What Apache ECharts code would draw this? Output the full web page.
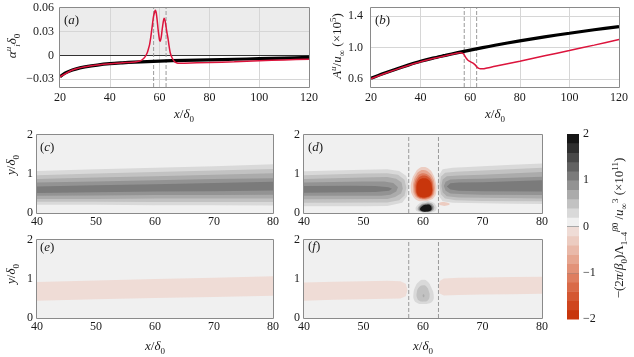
<!DOCTYPE html>
<html><head><meta charset="utf-8">
<script src="https://cdn.jsdelivr.net/npm/echarts@6/dist/echarts.min.js"></script>
<style>html,body{margin:0;padding:0;background:#fff}#c{width:634px;height:357px}</style>
</head><body><div id="c"></div>
<script>
// ---------------- data ----------------
const topXTicks = [20, 40, 60, 80, 100, 120];
const alphaYTicks = [-0.03, 0, 0.03, 0.06];
const ampYTicks = [0.6, 1.0, 1.4];
const fieldXTicks = [40, 50, 60, 70, 80];
const fieldYTicks = [0, 1, 2];
const cbarTicks = [-2, -1, 0, 1, 2];
const dashedX = [57.6, 62.6];

const alphaBlackX = [20, 22, 25, 28, 30, 35, 40, 45, 50, 55, 60, 70, 80, 90, 100, 110, 120];
const alphaBlackY = [-0.027, -0.0225, -0.0185, -0.0158, -0.0145, -0.0122, -0.0105, -0.0094, -0.0085, -0.0078, -0.0072, -0.0063, -0.0056, -0.0049, -0.0042, -0.0034, -0.0025];
const alphaRedX = [20, 25, 30, 35, 40, 45, 50, 52, 53, 54, 55, 55.5, 56, 56.5, 57, 57.5, 58, 58.3, 58.7, 59, 59.5, 60, 60.3, 60.7, 61, 61.5, 61.8, 62.2, 62.6, 63, 63.4, 63.8, 64.3, 65, 66, 67, 68, 70, 80, 90, 100, 110, 120];
const alphaRedY = [-0.027, -0.0185, -0.0145, -0.0122, -0.0105, -0.0094, -0.0084, -0.0072, -0.0055, -0.0025, 0.003, 0.008, 0.014, 0.024, 0.036, 0.048, 0.055, 0.057, 0.053, 0.045, 0.030, 0.019, 0.018, 0.024, 0.032, 0.043, 0.047, 0.044, 0.036, 0.028, 0.021, 0.012, 0.003, -0.003, -0.008, -0.0097, -0.0100, -0.0098, -0.0090, -0.0080, -0.0068, -0.0058, -0.0048];

const ampBlackX = [20, 25, 30, 35, 40, 45, 50, 55, 60, 65, 70, 80, 90, 100, 110, 120];
const ampBlackY = [0.61, 0.67, 0.725, 0.777, 0.825, 0.865, 0.90, 0.935, 0.967, 0.998, 1.028, 1.084, 1.135, 1.18, 1.225, 1.265];
const ampRedX = [20, 25, 30, 35, 40, 45, 50, 55, 56, 57, 57.5, 58, 58.5, 59, 59.5, 60, 61, 62, 62.5, 63, 63.5, 64, 65, 66, 70, 80, 90, 100, 110, 120];
const ampRedY = [0.605, 0.665, 0.72, 0.772, 0.82, 0.86, 0.895, 0.93, 0.932, 0.925, 0.91, 0.885, 0.86, 0.842, 0.83, 0.822, 0.805, 0.78, 0.76, 0.745, 0.735, 0.73, 0.731, 0.735, 0.762, 0.826, 0.895, 0.962, 1.03, 1.10];

// contour levels of the colour bar
const cbarEdges = [-2, -1.8, -1.6, -1.4, -1.2, -1, -0.8, -0.6, -0.4, -0.2, 0, 0.2, 0.4, 0.6, 0.8, 1, 1.2, 1.4, 1.6, 1.8, 2];

// filled contours (level, outline in x/delta0, y/delta0), outer to inner
const contoursC = [
  {level: 0.2, pts: [[40,1.08],[50,1.12],[60,1.16],[70,1.20],[80,1.25],[80,0.19],[70,0.20],[60,0.20],[50,0.21],[40,0.21]]},
  {level: 0.4, pts: [[40,0.97],[50,1.01],[60,1.05],[70,1.09],[80,1.13],[80,0.28],[70,0.28],[60,0.28],[50,0.29],[40,0.29]]},
  {level: 0.6, pts: [[40,0.87],[50,0.91],[60,0.94],[70,0.98],[80,1.02],[80,0.37],[70,0.37],[60,0.37],[50,0.36],[40,0.36]]},
  {level: 0.8, pts: [[40,0.78],[50,0.81],[60,0.84],[70,0.87],[80,0.89],[80,0.47],[70,0.46],[60,0.46],[50,0.45],[40,0.44]]},
  {level: 1.0, pts: [[40,0.68],[50,0.71],[60,0.74],[70,0.77],[80,0.80],[80,0.58],[70,0.56],[60,0.55],[50,0.53],[40,0.51]]}
];
const contoursD = [
  {level: 0.2, pts: [[40,1.07],[45,1.09],[50,1.11],[54,1.12],[56,1.08],[57.2,0.95],[57.6,0.7],[57.3,0.42],[56.5,0.26],[54,0.18],[50,0.17],[45,0.17],[40,0.17]]},
  {level: 0.4, pts: [[40,0.97],[50,1.01],[54,1.02],[55.8,0.98],[56.9,0.85],[57.2,0.65],[56.9,0.45],[56,0.33],[54,0.27],[40,0.26]]},
  {level: 0.6, pts: [[40,0.87],[50,0.91],[54,0.92],[55.5,0.88],[56.4,0.78],[56.6,0.62],[56.3,0.5],[55.3,0.41],[54,0.36],[40,0.35]]},
  {level: 0.8, pts: [[40,0.78],[50,0.81],[53.5,0.81],[55,0.77],[55.8,0.66],[55.5,0.55],[54.5,0.47],[53,0.44],[40,0.44]]},
  {level: 1.0, pts: [[40,0.69],[48,0.7],[52,0.69],[54.2,0.66],[54.8,0.62],[54.3,0.57],[52,0.54],[40,0.52]]},
  {level: 0.2, pts: [[62.4,0.7],[62.6,0.95],[63.3,1.12],[65,1.16],[70,1.2],[75,1.24],[80,1.27],[80,0.23],[75,0.24],[70,0.25],[65,0.26],[63.3,0.3],[62.6,0.45]]},
  {level: 0.4, pts: [[62.8,0.7],[63.0,0.93],[63.7,1.03],[65.5,1.06],[70,1.09],[80,1.16],[80,0.3],[70,0.31],[65.5,0.33],[63.7,0.37],[63.0,0.48]]},
  {level: 0.6, pts: [[63.1,0.7],[63.3,0.86],[64,0.94],[66,0.96],[70,0.98],[80,1.05],[80,0.37],[70,0.39],[66,0.4],[64,0.43],[63.3,0.53]]},
  {level: 0.8, pts: [[63.5,0.69],[63.8,0.8],[64.6,0.86],[67,0.87],[70,0.88],[80,0.93],[80,0.46],[70,0.47],[67,0.48],[64.6,0.5],[63.8,0.57]]},
  {level: 1.0, pts: [[64.0,0.68],[64.6,0.76],[66,0.78],[70,0.79],[80,0.84],[80,0.55],[70,0.56],[66,0.57],[64.6,0.6]]},
  {level: -0.2, smooth: 0.5, pts: [[60.1,1.18],[61.0,1.13],[61.7,0.99],[62.15,0.78],[62.25,0.58],[61.9,0.41],[61.0,0.32],[60.0,0.30],[59.0,0.33],[58.25,0.45],[57.95,0.62],[58.15,0.85],[58.7,1.03],[59.3,1.14]]},
  {level: -0.6, smooth: 0.5, pts: [[60.1,1.1],[60.9,1.05],[61.6,0.92],[61.95,0.73],[61.95,0.55],[61.6,0.42],[60.8,0.35],[60.0,0.34],[59.2,0.37],[58.55,0.47],[58.35,0.63],[58.45,0.83],[58.9,0.99],[59.4,1.07]]},
  {level: -1.0, smooth: 0.5, pts: [[60.1,1.02],[60.8,0.98],[61.45,0.87],[61.75,0.7],[61.75,0.53],[61.4,0.43],[60.7,0.37],[60.0,0.36],[59.3,0.39],[58.75,0.48],[58.55,0.63],[58.65,0.81],[59.1,0.94],[59.5,1.0]]},
  {level: -1.4, smooth: 0.5, pts: [[60.1,0.96],[60.8,0.93],[61.4,0.82],[61.6,0.67],[61.6,0.53],[61.3,0.44],[60.6,0.39],[60.0,0.38],[59.3,0.41],[58.9,0.49],[58.75,0.62],[58.85,0.78],[59.2,0.89],[59.6,0.94]]},
  {level: -1.8, smooth: 0.5, pts: [[60.1,0.89],[60.75,0.87],[61.3,0.78],[61.5,0.65],[61.5,0.53],[61.2,0.45],[60.6,0.41],[60.0,0.40],[59.35,0.43],[59.0,0.5],[58.9,0.62],[59.0,0.75],[59.3,0.84],[59.7,0.88]]},
  {level: 0.2, smooth: 0.5, pts: [[58.75,0.1],[59.15,0.21],[59.9,0.28],[60.7,0.31],[61.55,0.28],[62.15,0.2],[62.25,0.1],[61.85,0.03],[60.5,0.01],[59.25,0.03]]},
  {level: 0.6, smooth: 0.5, pts: [[59.1,0.1],[59.5,0.2],[60.3,0.25],[61.1,0.26],[61.75,0.2],[61.85,0.1],[61.35,0.035],[60.3,0.02],[59.45,0.045]]},
  {level: 1.0, smooth: 0.5, pts: [[59.3,0.1],[59.7,0.19],[60.4,0.23],[61.15,0.23],[61.6,0.17],[61.6,0.09],[61.05,0.04],[60.2,0.03],[59.55,0.055]]},
  {level: 1.8, smooth: 0.5, pts: [[59.5,0.1],[59.9,0.18],[60.6,0.21],[61.2,0.2],[61.45,0.13],[61.3,0.065],[60.6,0.04],[59.85,0.045]]},
  {level: -0.2, smooth: 0.5, pts: [[62.7,0.24],[63.2,0.28],[64.0,0.27],[64.5,0.23],[64.0,0.19],[63.2,0.19]]}
];
const contoursE = [
  {level: 0, pts: [[40,0.92],[50,0.96],[60,1.0],[70,1.03],[80,1.07],[80,0.57],[70,0.54],[60,0.51],[50,0.48],[40,0.44]]}
];
const contoursF = [
  {level: 0, pts: [[40,0.91],[45,0.93],[50,0.945],[54,0.955],[56.2,0.945],[57.1,0.88],[57.4,0.72],[57.1,0.56],[56.2,0.5],[54,0.495],[50,0.48],[45,0.465],[40,0.445]]},
  {level: 0, pts: [[62.6,0.8],[62.8,0.95],[63.5,1.01],[66,1.03],[70,1.04],[75,1.05],[80,1.06],[80,0.62],[75,0.61],[70,0.6],[66,0.59],[63.5,0.58],[62.8,0.63]]},
  {level: 0.2, smooth: 0.5, pts: [[60.0,0.98],[60.8,0.93],[61.4,0.78],[61.8,0.58],[61.6,0.43],[60.9,0.37],[60.0,0.36],[59.1,0.38],[58.5,0.46],[58.4,0.62],[58.7,0.8],[59.3,0.93]]},
  {level: 0.4, smooth: 0.5, pts: [[60.0,0.84],[60.6,0.8],[61.0,0.68],[61.1,0.55],[60.8,0.45],[60.1,0.42],[59.4,0.44],[59.0,0.52],[58.95,0.65],[59.3,0.78]]},
  {level: 0.6, smooth: 0.5, pts: [[60.1,0.61],[60.25,0.58],[60.2,0.545],[60.05,0.535],[59.95,0.565],[59.98,0.6]]}
];

// ---------------- styles ----------------
const FONT = 'Liberation Serif';
const POS = ['#f0f0f0','#d9d9d9','#c2c2c2','#ababab','#939393','#7b7b7b','#626262','#494949','#2f2f2f','#161616'];
const NEG = ['#efdcd6','#ecccc1','#e9b9a9','#e6a690','#e29278','#de7e60','#d96a48','#d45732','#cf451e','#c8360c'];
function levelColor(v){ const k = Math.round(Math.abs(v)/0.2); return v > 0 ? POS[k] : NEG[k]; }
function bandColor(lo, hi){ const m = (lo+hi)/2; return m > 0 ? POS[Math.floor(m/0.2)] : NEG[Math.floor(-m/0.2)]; }

const G = [
  {left: 60, top: 8, width: 249, height: 79},
  {left: 371, top: 8, width: 248, height: 79},
  {left: 37, top: 135, width: 236, height: 78},
  {left: 304, top: 135, width: 238, height: 78},
  {left: 37, top: 240, width: 236, height: 78},
  {left: 304, top: 240, width: 238, height: 78},
  {left: 567, top: 134, width: 12, height: 185}
];
const TXT = '#1a1a1a';
const lab = {fontFamily: FONT, fontSize: 12, color: TXT};
const zip = (xs, ys) => xs.map((x, i) => [x, ys[i]]);
const fmtNum = (v, d) => (v < 0 ? '\u2212' : '') + Math.abs(v).toFixed(d);
const near = (v, arr) => arr.some(t => Math.abs(v - t) < 1e-6);

const grids = G.map(g => ({left: g.left, top: g.top, width: g.width, height: g.height, containLabel: false}));
[2,3,4,5].forEach(i => { grids[i].show = true; grids[i].backgroundColor = POS[0]; grids[i].borderWidth = 0; });

const noLine = {axisLine: {show: false}, axisTick: {show: false}, splitLine: {show: false}};
const xAxes = [], yAxes = [];
[0,1].forEach(i => {
  xAxes.push(Object.assign({type: 'value', gridIndex: i, min: 20, max: 120, interval: 20,
    axisLabel: Object.assign({margin: 5, showMinLabel: true, showMaxLabel: true}, lab)}, noLine));
});
yAxes.push(Object.assign({type: 'value', gridIndex: 0, min: -0.04, max: 0.06, interval: 0.01,
  axisLabel: Object.assign({margin: 6, showMinLabel: true, showMaxLabel: true,
    formatter: v => near(v, alphaYTicks) ? (Math.abs(v) < 1e-9 ? '0' : fmtNum(v, 2)) : ''}, lab)}, noLine));
yAxes.push(Object.assign({type: 'value', gridIndex: 1, min: 0.5, max: 1.5, interval: 0.1,
  axisLabel: Object.assign({margin: 8, showMinLabel: true, showMaxLabel: true,
    formatter: v => near(v, ampYTicks) ? fmtNum(v, 1) : ''}, lab)}, noLine));
[2,3,4,5].forEach(i => {
  xAxes.push(Object.assign({type: 'value', gridIndex: i, min: fieldXTicks[0], max: fieldXTicks[fieldXTicks.length-1], interval: 10,
    axisLabel: Object.assign({margin: 3, showMinLabel: true, showMaxLabel: true}, lab)}, noLine));
  yAxes.push(Object.assign({type: 'value', gridIndex: i, min: fieldYTicks[0], max: fieldYTicks[fieldYTicks.length-1], interval: 1,
    axisLabel: Object.assign({margin: 4, showMinLabel: true, showMaxLabel: true}, lab)}, noLine));
});
xAxes.push(Object.assign({type: 'value', gridIndex: 6, min: 0, max: 1, show: false}, noLine));
yAxes.push(Object.assign({type: 'value', gridIndex: 6, min: cbarTicks[0], max: cbarTicks[cbarTicks.length-1], interval: 1, position: 'right',
  axisLabel: Object.assign({margin: 4, showMinLabel: true, showMaxLabel: true, formatter: v => (v < 0 ? '\u2212' + (-v) : '' + v)}, lab)}, noLine));

function contourSeries(idx, list) {
  return {
    type: 'custom', xAxisIndex: idx, yAxisIndex: idx, clip: true, silent: true, z: 2,
    data: list.map((c, i) => [c.pts[0][0], c.pts[0][1], i]),
    encode: {x: 0, y: 1},
    renderItem: (params, api) => {
      const c = list[api.value(2)];
      return {type: 'polygon', shape: {points: c.pts.map(p => api.coord(p)), smooth: c.smooth || 0},
        style: {fill: levelColor(c.level)}};
    }
  };
}
function dashedSeries(idx, y0, y1) {
  return dashedX.map(x => ({type: 'line', xAxisIndex: idx, yAxisIndex: idx, data: [[x, y0], [x, y1]],
    symbol: 'none', silent: true, z: 6, lineStyle: {color: '#9a9a9a', width: 1, type: [4, 2]}}));
}
const gridLineStyle = {color: '#d6d6d6', width: 1, type: 'solid'};

const series = [];
// panel (a)
series.push({type: 'line', xAxisIndex: 0, yAxisIndex: 0, data: zip(alphaBlackX, alphaBlackY), symbol: 'none', smooth: 0.3,
  lineStyle: {color: '#000', width: 3.2}, z: 7, silent: true,
  markArea: {silent: true, z: 1, itemStyle: {color: '#ececec'}, data: [[{yAxis: 0}, {yAxis: alphaYTicks[alphaYTicks.length-1]}]]},
  markLine: {silent: true, z: 1.5, symbol: 'none', label: {show: false}, lineStyle: gridLineStyle, animation: false,
    data: topXTicks.slice(1, -1).map(x => ({xAxis: x})).concat(alphaYTicks.filter(v => v !== 0 && v < 0.06).map(v => ({yAxis: v})))
      .concat([{yAxis: 0, lineStyle: {color: '#333', width: 1, type: 'solid'}}])}});
series.push({type: 'line', xAxisIndex: 0, yAxisIndex: 0, data: zip(alphaRedX, alphaRedY), symbol: 'none', smooth: 0.2,
  lineStyle: {color: '#dc143c', width: 1.5}, z: 8, silent: true});
series.push(...dashedSeries(0, -0.04, 0.06));
// panel (b)
series.push({type: 'line', xAxisIndex: 1, yAxisIndex: 1, data: zip(ampBlackX, ampBlackY), symbol: 'none', smooth: 0.3,
  lineStyle: {color: '#000', width: 3.2}, z: 7, silent: true,
  markLine: {silent: true, z: 1.5, symbol: 'none', label: {show: false}, lineStyle: gridLineStyle, animation: false,
    data: topXTicks.slice(1, -1).map(x => ({xAxis: x})).concat(ampYTicks.map(v => ({yAxis: v})))}});
series.push({type: 'line', xAxisIndex: 1, yAxisIndex: 1, data: zip(ampRedX, ampRedY), symbol: 'none', smooth: 0.2,
  lineStyle: {color: '#dc143c', width: 1.5}, z: 8, silent: true});
series.push(...dashedSeries(1, 0.5, 1.5));
// panels (c)-(f)
series.push(contourSeries(2, contoursC));
series.push(contourSeries(3, contoursD));
series.push(contourSeries(4, contoursE));
series.push(contourSeries(5, contoursF));
series.push(...dashedSeries(3, 0, 2));
series.push(...dashedSeries(5, 0, 2));
// colour bar
series.push({type: 'custom', xAxisIndex: 6, yAxisIndex: 6, silent: true, z: 2,
  data: cbarEdges.slice(0, -1).map((lo, i) => [0, lo, cbarEdges[i + 1]]),
  encode: {x: 0, y: 1},
  renderItem: (params, api) => {
    const lo = api.value(1), hi = api.value(2);
    const p1 = api.coord([0, hi]), p2 = api.coord([1, lo]);
    return {type: 'rect', shape: {x: p1[0], y: p1[1], width: p2[0] - p1[0], height: p2[1] - p1[1] + 0.5},
      style: {fill: bandColor(lo, hi)}};
  },
  markLine: {silent: true, z: 5, symbol: 'none', label: {show: false}, animation: false,
    data: [{yAxis: 0, lineStyle: {color: '#a8a8a8', width: 1, type: 'solid'}}, {yAxis: -1, lineStyle: {color: '#c0806c', width: 1, type: 'solid'}}]}
});

// text
const RICH = {
  n: {fontFamily: FONT, fontSize: 13, color: TXT, lineHeight: 18},
  it: {fontFamily: FONT, fontSize: 13, fontStyle: 'italic', color: TXT, lineHeight: 18},
  sub: {fontFamily: FONT, fontSize: 9, color: TXT, lineHeight: 11, verticalAlign: 'bottom'},
  subi: {fontFamily: FONT, fontSize: 9, fontStyle: 'italic', color: TXT, lineHeight: 11, verticalAlign: 'bottom'},
  sup: {fontFamily: FONT, fontSize: 9, color: TXT, lineHeight: 11, verticalAlign: 'top'},
  supi: {fontFamily: FONT, fontSize: 9, fontStyle: 'italic', color: TXT, lineHeight: 11, verticalAlign: 'top'}
};
function T(x, y, text, rot) {
  return {type: 'text', x: x, y: y, rotation: rot ? Math.PI / 2 : 0, z: 200, silent: true,
    style: {text: text, rich: RICH, align: 'center', verticalAlign: 'middle', fontFamily: FONT, fontSize: 13, fill: TXT}};
}
function P(x, y, letter) {
  return {type: 'text', x: x, y: y, z: 200, silent: true,
    style: {text: '{n|(}{it|' + letter + '}{n|)}', rich: RICH, align: 'left', verticalAlign: 'middle', fontFamily: FONT, fontSize: 13, fill: TXT}};
}
const xLab = '{it|x}{n|/}{it|\u03b4}{sub|0}';
const yLab = '{it|y}{n|/}{it|\u03b4}{sub|0}';
const graphics = [
  T(13, 46, '{it|\u03b1}{supi|u}{subi|i}{it|\u03b4}{sub|0}', true),
  T(338, 46, '{it|A}{supi|u}{n|/}{it|u}{sub|\u221e}{n| (\u00d710}{sup|5}{n|)}', true),
  T(184, 115, xLab), T(495, 115, xLab),
  T(12, 165, yLab, true), T(12, 274, yLab, true),
  T(155, 347, xLab), T(423, 347, xLab),
  T(620, 228, '{n|\u2212(2}{it|\u03c0}{n|/}{it|\u03b2}{sub|0}{n|)\u039b}{sub|1\u20134}{supi|\u03b2}{sup|0}{n| /}{it|u}{sub|\u221e}{sup|3}{n| (\u00d710}{sup|11}{n|)}', true),
  P(64, 21, 'a'), P(375, 21, 'b'), P(40, 148, 'c'), P(308, 148, 'd'), P(40, 248, 'e'), P(308, 247, 'f')
];
G.slice(0, 6).forEach(g => graphics.push({type: 'rect', z: 150, silent: true,
  shape: {x: g.left - 0.5, y: g.top - 0.5, width: g.width + 1, height: g.height + 1},
  style: {fill: 'none', stroke: '#8a8a8a', lineWidth: 1}}));

const chart = echarts.init(document.getElementById('c'), null, {renderer: 'canvas'});
chart.setOption({
  animation: false,
  backgroundColor: '#ffffff',
  textStyle: {fontFamily: FONT},
  grid: grids, xAxis: xAxes, yAxis: yAxes, series: series, graphic: graphics
});
</script></body></html>
